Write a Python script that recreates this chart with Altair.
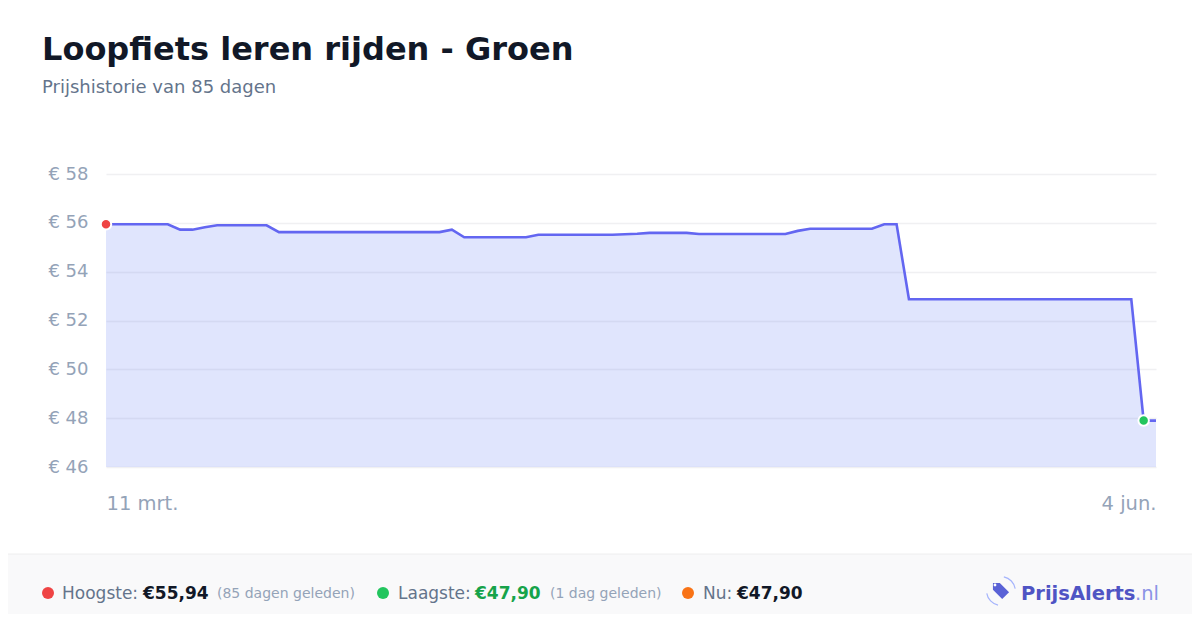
import altair as alt
import pandas as pd

FONT = "DejaVu Sans"

# price per day, day 0 = 11 mrt., day 85 = 4 jun.
prices = (
    [55.94] * 6 + [55.72] * 2 + [55.82] + [55.90] * 5 + [55.62] * 14
    + [55.72] + [55.41] * 6 + [55.51] * 7 + [55.53, 55.55] + [55.59] * 4
    + [55.54] * 8 + [55.67] + [55.76] * 6 + [55.94] * 2 + [52.87] * 19
    + [47.90, 47.90]
)
days = list(range(len(prices)))

y_ticks = [46, 48, 50, 52, 54, 56, 58]
x_tick_days = [0, 85]
x_tick_labels = ["11 mrt.", "4 jun."]

marker_days = [0, 84]
marker_prices = [55.94, 47.90]
marker_colors = ["#ef4444", "#22c55e"]

title = "Loopfiets leren rijden - Groen"
subtitle = "Prijshistorie van 85 dagen"

df = pd.DataFrame({"dag": days, "prijs": prices})
markers = pd.DataFrame({"dag": marker_days, "prijs": marker_prices, "kleur": marker_colors})

W, H = 1050, 293

x_enc = alt.X(
    "dag:Q",
    scale=alt.Scale(domain=[0, 85], nice=False, zero=False),
    axis=alt.Axis(
        values=x_tick_days,
        labelExpr=f"datum.value == {x_tick_days[0]} ? '{x_tick_labels[0]}' : '{x_tick_labels[1]}'",
        labelFlush=True, grid=False, ticks=False, domain=False,
        labelFontSize=19.5, labelColor="#94a3b8", labelFont=FONT, labelPadding=27,
        title=None,
    ),
)
y_enc = alt.Y(
    "prijs:Q",
    scale=alt.Scale(domain=[46, 58], nice=False, zero=False),
    axis=alt.Axis(
        values=y_ticks, labelExpr="'€ ' + datum.value",
        ticks=False, domain=False, gridColor="#f0f0f2", gridWidth=1.5,
        labelFontSize=18, labelColor="#94a3b8", labelFont=FONT, labelPadding=18,
        title=None,
    ),
)

area = alt.Chart(df).mark_area(color="#647df5", fillOpacity=0.2).encode(
    x=x_enc, y=y_enc, y2=alt.Y2(datum=46)
)
line = alt.Chart(df).mark_line(color="#6366f1", strokeWidth=2.6).encode(
    x="dag:Q", y="prijs:Q"
)
dots = alt.Chart(markers).mark_circle(size=110, opacity=1, stroke="white", strokeWidth=2).encode(
    x="dag:Q", y="prijs:Q", color=alt.Color("kleur:N", scale=None)
)


def tekst(t, x, y, size, color, weight="normal", align="left"):
    return alt.Chart(alt.Data(values=[{"t": t}])).mark_text(
        align=align, baseline="alphabetic", fontSize=size, color=color,
        fontWeight=weight, font=FONT,
    ).encode(text="t:N", x=alt.value(x), y=alt.value(y))


def stip(x, y, color, size=144):
    return alt.Chart(alt.Data(values=[{}])).mark_circle(size=size, color=color, opacity=1).encode(
        x=alt.value(x), y=alt.value(y)
    )


footer_bg = alt.Chart(alt.Data(values=[{}])).mark_rect(color="#f9f9fa").encode(
    x=alt.value(-98), x2=alt.value(1086), y=alt.value(380), y2=alt.value(460)
)
footer_line = alt.Chart(alt.Data(values=[{}])).mark_rule(color="#eeeeee", strokeWidth=1).encode(
    x=alt.value(-98), x2=alt.value(1086), y=alt.value(380)
)

tag = alt.Chart(alt.Data(values=[{}])).mark_point(
    shape="M -0.15 -1 L 1 0.15 L 0.15 1 L -1 -0.15 L -1 -1 Z",
    filled=True, size=260, color="#5a62d6", opacity=1,
).encode(x=alt.value(895), y=alt.value(417))
hole = alt.Chart(alt.Data(values=[{}])).mark_circle(size=8, color="white", opacity=1).encode(
    x=alt.value(889), y=alt.value(411)
)
wave1 = alt.Chart(alt.Data(values=[{}])).mark_arc(
    radius=15, radius2=13.8, theta=0.2, theta2=1.4, color="#a5b4fc"
).encode(x=alt.value(895), y=alt.value(417))
wave2 = alt.Chart(alt.Data(values=[{}])).mark_arc(
    radius=15, radius2=13.8, theta=3.35, theta2=4.55, color="#a5b4fc"
).encode(x=alt.value(895), y=alt.value(417))

footer = [
    footer_bg, footer_line,
    stip(-58, 419, "#ef4444"),
    tekst("Hoogste:", -44, 425, 17, "#64748b"),
    tekst("€55,94", 37, 425, 17, "#111827", "bold"),
    tekst("(85 dagen geleden)", 111, 424, 14, "#94a3b8"),
    stip(277, 419, "#22c55e"),
    tekst("Laagste:", 292, 425, 17, "#64748b"),
    tekst("€47,90", 369, 425, 17, "#16a34a", "bold"),
    tekst("(1 dag geleden)", 444, 424, 14, "#94a3b8"),
    stip(582, 419, "#f97316"),
    tekst("Nu:", 597, 425, 17, "#64748b"),
    tekst("€47,90", 631, 425, 17, "#111827", "bold"),
    wave1, wave2, tag, hole,
    tekst("PrijsAlerts", 915, 426, 19.5, "#4f54c4", "bold"),
    tekst(".nl", 1029, 426, 19.5, "#8b93e6"),
]

heading = [
    tekst(title, -64, -114, 32, "#111827", "bold"),
    tekst(subtitle, -64, -81, 18, "#64748b"),
]

chart = alt.layer(area, line, dots, *heading, *footer).properties(
    width=W, height=H,
    autosize=alt.AutoSizeParams(type="none"),
    padding={"left": 98, "top": 166, "right": 36, "bottom": 147},
    background="white",
).configure_view(stroke=None)

chart.save("out.html", embed_options={"renderer": "svg", "actions": False})
